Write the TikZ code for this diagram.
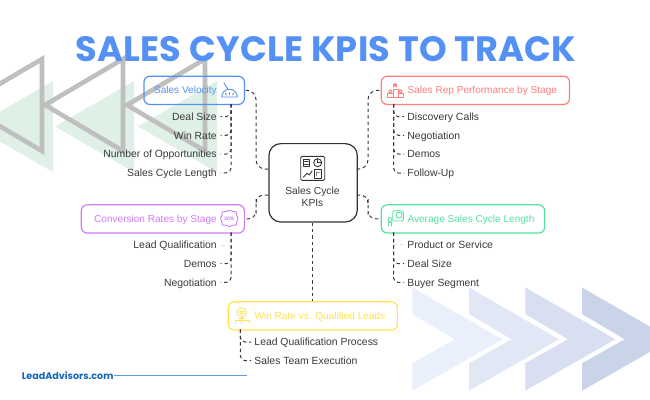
\documentclass[tikz,border=0pt]{standalone}
\usepackage{fontspec}
\setmainfont{Liberation Sans}
\newfontfamily\titlefont[LetterSpace=0.7]{Poppins}
\newfontfamily\logofont{Poppins}
\definecolor{cblue}{HTML}{5591F5}
\definecolor{cred}{HTML}{FF7F7F}
\definecolor{cgreen}{HTML}{55E3A0}
\definecolor{cpurple}{HTML}{D27BF7}
\definecolor{cyellow}{HTML}{FFE44D}
\definecolor{ctext}{HTML}{3A3A3A}
\definecolor{tgreen}{HTML}{DFF0E6}
\definecolor{logoblue}{HTML}{1668BC}
\definecolor{logoline}{HTML}{5C9BE0}
\tikzset{
  px/.style={line width=#1*0.75pt},
  kpibox/.style={draw=#1,px=1.2,rounded corners=4.5pt,inner sep=0pt,anchor=north west},
  conn/.style={draw=ctext,px=1,dash pattern=on 2.6pt off 2.2pt,rounded corners=3.5pt},
  faint/.style={draw=black!12,px=1,dash pattern=on 2.6pt off 2.2pt},
  itemL/.style={anchor=west,text=ctext,font=\fontsize{7.8pt}{9pt}\selectfont,text height=5.7pt,text depth=0pt,inner ysep=0pt,inner xsep=2.4pt},
  itemR/.style={anchor=east,text=ctext,font=\fontsize{7.8pt}{9pt}\selectfont,text height=5.7pt,text depth=0pt,inner ysep=0pt,inner xsep=2.8pt},
  boxtitle/.style={text=#1,font=\fontsize{7.55pt}{9pt}\selectfont,text height=5.7pt,text depth=0pt,inner sep=0pt},
  icon/.style={draw=#1,px=0.9,line join=round,line cap=round},
  graytri/.style={draw=black!25,px=4.6,line join=miter},
}
\begin{document}
\begin{tikzpicture}[x=0.75pt,y=-0.75pt]
\useasboundingbox (0,0) rectangle (650,400);
\clip (0,0) rectangle (650,400);
\fill[white] (0,0) rectangle (650,400);
% backgrounds
\foreach \r in {53,134,217}{
  \fill[tgreen] (\r,81) -- (\r-79,126.5) -- (\r,172) -- cycle;
}
\foreach \r in {42,123,205}{
  \draw[graytri] (\r,59) -- (\r-78,105) -- (\r,151) -- cycle;
}
\foreach \l/\c in {412.3/EAF0FB,469/E1E7F5,525.3/D7DFF0,582/C9D4E8}{
  \definecolor{chev}{HTML}{\c}
  \fill[chev] (\l,287.5) -- (\l+90,339.3) -- (\l,390.7) -- (\l,363.3) -- (\l+42.7,339.3) -- (\l,314) -- cycle;
}
% title
\node[text=cblue,font=\titlefont\bfseries\fontsize{26.4pt}{30pt}\selectfont,inner sep=0pt] (title) at (326,49.5) {SALES CYCLE KPIS TO TRACK};
% boxes
\node[kpibox=cblue,minimum width=75.4pt,minimum height=21.2pt] (vel) at (143.3,75.6) {};
\node[kpibox=cred,minimum width=141.2pt,minimum height=21.2pt] (rep) at (380.7,75.6) {};
\node[kpibox=cgreen,minimum width=122.5pt,minimum height=21.2pt] (avg) at (380.7,204.2) {};
\node[kpibox=cpurple,minimum width=122.3pt,minimum height=21.2pt] (conv) at (80.7,204.2) {};
\node[kpibox=cyellow,minimum width=126.8pt,minimum height=21.2pt] (win) at (227.7,301.2) {};
\node[draw=black!80,px=1.2,rounded corners=9pt,minimum width=66.3pt,minimum height=58.8pt,anchor=north west,inner sep=0pt] (hub) at (268.3,143) {};
% box titles
\node[boxtitle=cblue,anchor=east] (velT) at (217,90) {Sales Velocity};
\node[boxtitle=cred,anchor=west] (repT) at (407.3,90) {Sales Rep Performance by Stage};
\node[boxtitle=cgreen,anchor=west] (avgT) at (407.3,218.4) {Average Sales Cycle Length};
\node[boxtitle=cpurple,anchor=east] (convT) at (217,218.4) {Conversion Rates by Stage};
\node[boxtitle=cyellow,anchor=west] (winT) at (254.3,315.4) {Win Rate vs. Qualified Leads};
\node[align=center,text=ctext,font=\fontsize{7.7pt}{9.1pt}\selectfont,inner sep=0pt] (hubT) at (312.5,196.7) {Sales Cycle\\KPIs};
% items
\node[itemR] (v1) at (220.7,116.5) {Deal Size};
\node[itemR] (v2) at (220.7,135.3) {Win Rate};
\node[itemR] (v3) at (220.7,154) {Number of Opportunities};
\node[itemR] (v4) at (220.7,172.8) {Sales Cycle Length};
\node[itemL] (r1) at (404,116.7) {Discovery Calls};
\node[itemL] (r2) at (404,135.3) {Negotiation};
\node[itemL] (r3) at (404,154) {Demos};
\node[itemL] (r4) at (404,173) {Follow-Up};
\node[itemL] (a1) at (404,244.8) {Product or Service};
\node[itemL] (a2) at (404,263.7) {Deal Size};
\node[itemL] (a3) at (404,282.4) {Buyer Segment};
\node[itemR] (c1) at (220.7,245) {Lead Qualification};
\node[itemR] (c2) at (220.7,263.7) {Demos};
\node[itemR] (c3) at (220.7,282.4) {Negotiation};
\node[itemL] (w1) at (251,342) {Lead Qualification Process};
\node[itemL] (w2) at (251,360.7) {Sales Team Execution};
% anchors
\coordinate (vt) at (231,104);
\coordinate (rt) at (393.7,104);
\coordinate (at) at (393.5,232.4);
\coordinate (ct) at (231,232.4);
\coordinate (wt) at (240.4,329.4);
\coordinate (hUL) at (268.3,169);
\coordinate (hUR) at (356.7,169);
\coordinate (hLL) at (268.3,195);
\coordinate (hLR) at (356.7,195);
\coordinate (mL) at (256,130);
\coordinate (mR) at (368,130);
\coordinate (mLL) at (256,207);
\coordinate (mLR) at (368,207);
% hub connectors
\draw[conn,rounded corners=7pt] (hUL) -| (mL) |- (vel.east);
\draw[conn,rounded corners=7pt] (hUR) -| (mR) |- (rep.west);
\draw[conn,rounded corners=6pt] (hLL) -| (mLL) |- (conv.east);
\draw[conn,rounded corners=6pt] (hLR) -| (mLR) |- (avg.west);
\draw[conn] (hub.south -| win.north) -- (win.north);
% trees
\foreach \n in {v1,v2,v3,v4}{\draw[conn] (vt) |- (\n.east);}
\foreach \n in {r1,r2,r3,r4}{\draw[conn] (rt) |- (\n.west);}
\foreach \n in {a2,a3}{\draw[conn] (at) |- (\n.west);}
\draw[faint] (a1.west -| at) -- (a1.west);
\foreach \n in {c2,c3}{\draw[conn] (ct) |- (\n.east);}
\draw[faint] (c1.east -| ct) -- (c1.east);
\foreach \n in {w1,w2}{\draw[conn] (wt) |- (\n.west);}
% gauge icon
\draw[icon=cblue] (221.7,97) arc (180:360:7.8) -- cycle;
\draw[icon=cblue] (224,83) -- (227.5,88.5);
\draw[icon=cblue] (229.5,92.5) -- (229.5,95) (225.5,93) -- (226.3,95) (233.5,93) -- (232.7,95);
% podium icon
\draw[icon=cred] (393.3,97.3) rectangle (398.3,89.5);
\draw[icon=cred] (387.5,97.3) rectangle (393.3,93.5);
\draw[icon=cred] (398.3,97.3) rectangle (403.2,93.5);
\draw[icon=cred] (390.3,91.3) circle (1.7);
\draw[icon=cred] (400.7,91.3) circle (1.7);
\draw[icon=cred] (395,83) -- (396.6,86.8) -- (393.2,84.5) -- (396.8,84.5) -- (393.4,86.8) -- cycle;
% screen and person icon
\draw[icon=cgreen,rounded corners=1pt] (392.7,210.7) rectangle (403.3,221);
\draw[icon=cgreen] (399,215) circle (3);
\draw[icon=cgreen] (390,219.5) circle (2);
\draw[icon=cgreen] (388.5,226) -- (388.5,222.6) -- (391.7,222.6) -- (391.7,226);
% badge icon
\draw[icon=cpurple] plot[smooth cycle,tension=0.4] coordinates {(229.3,210.3) (232.6,211.5) (236.2,212) (236.8,215.3) (238,218.4) (236.8,221.5) (236.2,224.8) (232.6,225.3) (229.3,226.5) (226,225.3) (222.4,224.8) (221.8,221.5) (220.6,218.4) (221.8,215.3) (222.4,212) (226,211.5)};
\node[text=cpurple,font=\bfseries\fontsize{3.8pt}{4pt}\selectfont,inner sep=0pt] (badge) at (229.3,218.4) {30\%};
% person icon
\draw[icon=cyellow] (241.7,312.3) circle (4.7);
\draw[icon=cyellow] (241.7,314.6) -- (239.4,312) arc (180:360:1.15) arc (180:360:1.15) -- cycle;
\draw[icon=cyellow] (241.7,317) -- (241.7,323) (235.3,323) -- (235.3,320) -- (249,320) -- (249,323) (239,318.5) -- (244.5,318.5);
% hub icon
\draw[icon=black!80,rounded corners=1pt] (300.7,156.3) rectangle (324.7,180.3);
\draw[icon=black!80] (303.2,159) rectangle (309.7,166.7);
\draw[icon=black!80] (304.6,161.5) -- (308.3,161.5) (304.6,164) -- (308.3,164);
\draw[icon=black!80] (317.7,162.7) circle (4);
\draw[icon=black!80] (317.7,162.7) -- (317.7,158.7) (317.7,162.7) -- (321.7,162.7);
\draw[icon=black!80] (303.3,177.3) -- (307.3,173.3) -- (309.3,175) -- (312,171);
\draw[icon=black!80] (314.3,169.7) rectangle (321.3,178);
\draw[icon=black!50] (316.3,172) -- (319.3,172) (316.3,172) -- (316.3,176);
% logo
\node[anchor=west,text=logoblue,font=\logofont\bfseries\fontsize{7.2pt}{9pt}\selectfont,inner sep=0pt] (logo) at (21.5,375.7) {LeadAdvisors.com};
\coordinate (logoEnd) at (247,375.7);
\draw[logoline,px=1.1] (logo.east) -- (logoEnd);
\end{tikzpicture}
\end{document}
